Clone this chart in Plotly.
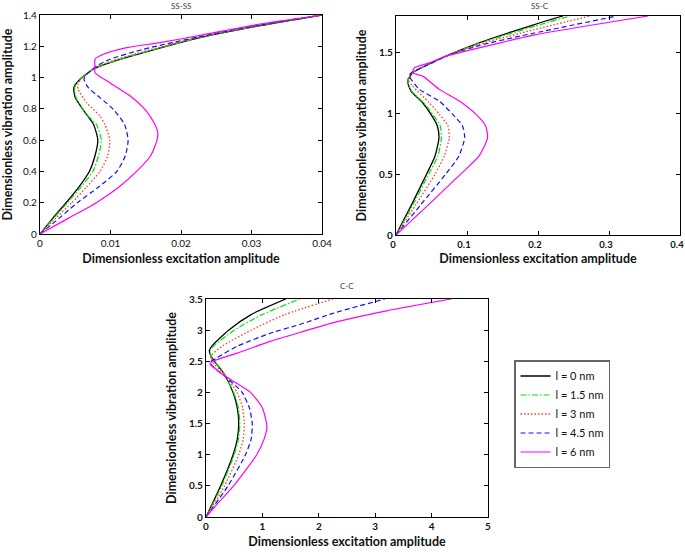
import plotly.graph_objects as go

# ---------------- data ----------------
series_names = ["l = 0 nm", "l = 1.5 nm", "l = 3 nm", "l = 4.5 nm", "l = 6 nm"]
series_colors = ["#000000", "#00e000", "#ff3b1f", "#1010ff", "#ff00ff"]
series_dash = ["solid", "6px,2px,1.5px,2px", "1.5px,2px", "5px,3px", "solid"]
series_width = [1.3, 1.2, 1.3, 1.2, 1.2]

panel_titles = ["SS-SS", "SS-C", "C-C"]
x_title = "Dimensionless excitation amplitude"
y_title = "Dimensionless vibration amplitude"

# SS-SS panel
ssss_x_ticks = [0, 0.01, 0.02, 0.03, 0.04]
ssss_x_labels = ["0", "0.01", "0.02", "0.03", "0.04"]
ssss_y_ticks = [0, 0.2, 0.4, 0.6, 0.8, 1.0, 1.2, 1.4]
ssss_y_labels = ["0", "0.2", "0.4", "0.6", "0.8", "1", "1.2", "1.4"]

ssss_l0_x = [0, 0.0018, 0.0037, 0.0055, 0.0070, 0.0078, 0.0082, 0.0076, 0.0064, 0.0050, 0.0048, 0.00567, 0.00756, 0.0099, 0.01466, 0.0227, 0.031, 0.040]
ssss_l0_y = [0, 0.1, 0.2, 0.3, 0.4, 0.5, 0.6, 0.7, 0.776, 0.872, 0.935, 0.989, 1.053, 1.095, 1.159, 1.255, 1.33, 1.4]
ssss_l15_x = [0, 0.0019, 0.0039, 0.0058, 0.0075, 0.0083, 0.0087, 0.0080, 0.0066, 0.0052, 0.0049, 0.0057, 0.0076, 0.0099, 0.0146, 0.0226, 0.0309, 0.040]
ssss_l15_y = [0, 0.1, 0.2, 0.3, 0.4, 0.5, 0.6, 0.7, 0.765, 0.861, 0.935, 0.989, 1.053, 1.095, 1.159, 1.255, 1.33, 1.4]
ssss_l3_x = [0, 0.0022, 0.0045, 0.0066, 0.0085, 0.0096, 0.0099, 0.0092, 0.0085, 0.0066, 0.0054, 0.0054, 0.0060, 0.0078, 0.0098, 0.0146, 0.0225, 0.0308, 0.040]
ssss_l3_y = [0, 0.1, 0.2, 0.3, 0.4, 0.5, 0.6, 0.7, 0.754, 0.84, 0.925, 0.96, 1.0, 1.06, 1.1, 1.165, 1.258, 1.332, 1.4]
ssss_l45_x = [0, 0.0027, 0.0053, 0.0083, 0.0109, 0.0121, 0.0125, 0.0120, 0.0104, 0.0085, 0.00686, 0.00624, 0.00662, 0.00804, 0.0099, 0.01466, 0.0227, 0.031, 0.040]
ssss_l45_y = [0, 0.1, 0.2, 0.3, 0.4, 0.5, 0.6, 0.7, 0.797, 0.872, 0.935, 0.989, 1.021, 1.074, 1.117, 1.181, 1.262, 1.335, 1.4]
ssss_l6_x = [0, 0.0040, 0.0080, 0.0112, 0.0137, 0.0157, 0.0166, 0.0167, 0.0163, 0.0156, 0.01466, 0.0128, 0.0099, 0.0078, 0.0078, 0.0078, 0.0090, 0.0123, 0.0170, 0.0227, 0.031, 0.040]
ssss_l6_y = [0, 0.1, 0.2, 0.3, 0.4, 0.5, 0.6, 0.65, 0.7, 0.754, 0.808, 0.882, 0.967, 1.031, 1.07, 1.117, 1.149, 1.191, 1.223, 1.27, 1.34, 1.4]

# SS-C panel
ssc_x_ticks = [0, 0.1, 0.2, 0.3, 0.4]
ssc_x_labels = ["0", "0.1", "0.2", "0.3", "0.4"]
ssc_y_ticks = [0, 0.5, 1.0, 1.5]
ssc_y_labels = ["0", "0.5", "1", "1.5"]

ssc_l0_x = [0, 0.022, 0.043, 0.055, 0.0605, 0.058, 0.0493, 0.0376, 0.0211, 0.0164, 0.0235, 0.0423, 0.0704, 0.117, 0.195, 0.235]
ssc_l0_y = [0, 0.25, 0.5, 0.65, 0.8, 0.9, 0.992, 1.087, 1.183, 1.265, 1.333, 1.393, 1.47, 1.579, 1.73, 1.8]
ssc_l15_x = [0, 0.024, 0.046, 0.059, 0.064, 0.062, 0.0516, 0.039, 0.022, 0.0165, 0.0235, 0.0423, 0.0704, 0.117, 0.195, 0.245]
ssc_l15_y = [0, 0.25, 0.5, 0.65, 0.8, 0.9, 0.992, 1.087, 1.183, 1.265, 1.333, 1.393, 1.47, 1.575, 1.715, 1.8]
ssc_l3_x = [0, 0.028, 0.055, 0.068, 0.075, 0.073, 0.061, 0.047, 0.0235, 0.017, 0.021, 0.042, 0.070, 0.117, 0.195, 0.273]
ssc_l3_y = [0, 0.25, 0.5, 0.65, 0.8, 0.9, 0.992, 1.087, 1.224, 1.28, 1.33, 1.393, 1.47, 1.568, 1.688, 1.8]
ssc_l45_x = [0, 0.035, 0.070, 0.0887, 0.0967, 0.0934, 0.0798, 0.061, 0.0329, 0.0188, 0.021, 0.043, 0.071, 0.117, 0.1746, 0.195, 0.311]
ssc_l45_y = [0, 0.25, 0.5, 0.65, 0.8, 0.9, 0.992, 1.101, 1.197, 1.306, 1.33, 1.393, 1.47, 1.557, 1.635, 1.66, 1.8]
ssc_l6_x = [0, 0.046, 0.091, 0.117, 0.129, 0.126, 0.1127, 0.0892, 0.061, 0.0376, 0.0235, 0.0258, 0.047, 0.0704, 0.117, 0.1746, 0.195, 0.270, 0.355]
ssc_l6_y = [0, 0.25, 0.5, 0.65, 0.8, 0.9, 0.992, 1.101, 1.197, 1.306, 1.333, 1.374, 1.415, 1.47, 1.538, 1.618, 1.645, 1.72, 1.8]

# C-C panel
cc_x_ticks = [0, 1, 2, 3, 4, 5]
cc_x_labels = ["0", "1", "2", "3", "4", "5"]
cc_y_ticks = [0, 0.5, 1.0, 1.5, 2.0, 2.5, 3.0, 3.5]
cc_y_labels = ["0", "0.5", "1", "1.5", "2", "2.5", "3", "3.5"]

cc_l0_x = [0, 0.26, 0.48, 0.555, 0.58, 0.555, 0.48, 0.32, 0.15, 0.08, 0.06, 0.11, 0.40, 0.80, 1.415]
cc_l0_y = [0, 0.5, 1.0, 1.25, 1.5, 1.75, 2.0, 2.3, 2.5, 2.6, 2.67, 2.75, 3.0, 3.25, 3.5]
cc_l15_x = [0, 0.28, 0.50, 0.575, 0.60, 0.575, 0.49, 0.32, 0.15, 0.085, 0.075, 0.14, 0.50, 1.00, 1.66]
cc_l15_y = [0, 0.5, 1.0, 1.25, 1.5, 1.75, 2.0, 2.3, 2.5, 2.6, 2.67, 2.75, 3.0, 3.25, 3.5]
cc_l3_x = [0, 0.33, 0.58, 0.66, 0.68, 0.65, 0.55, 0.32, 0.15, 0.08, 0.10, 0.30, 0.80, 1.40, 2.25]
cc_l3_y = [0, 0.5, 1.0, 1.25, 1.5, 1.75, 2.0, 2.3, 2.45, 2.55, 2.6, 2.75, 3.0, 3.25, 3.5]
cc_l45_x = [0, 0.39, 0.70, 0.80, 0.82, 0.77, 0.64, 0.35, 0.14, 0.08, 0.20, 0.55, 1.14, 1.73, 2.25, 3.17]
cc_l45_y = [0, 0.5, 1.0, 1.25, 1.5, 1.75, 2.0, 2.25, 2.4, 2.48, 2.56, 2.74, 2.95, 3.11, 3.27, 3.5]
cc_l6_x = [0, 0.24, 0.49, 0.90, 1.03, 1.08, 1.00, 0.79, 0.45, 0.28, 0.14, 0.07, 0.10, 0.55, 1.14, 1.73, 2.26, 3.20, 4.35]
cc_l6_y = [0, 0.25, 0.5, 1.0, 1.25, 1.45, 1.75, 2.0, 2.2, 2.3, 2.4, 2.45, 2.49, 2.63, 2.82, 2.98, 3.12, 3.31, 3.5]

# ---------------- figure ----------------
panels = [
    ("x", "y", [(ssss_l0_x, ssss_l0_y), (ssss_l15_x, ssss_l15_y), (ssss_l3_x, ssss_l3_y), (ssss_l45_x, ssss_l45_y), (ssss_l6_x, ssss_l6_y)]),
    ("x2", "y2", [(ssc_l0_x, ssc_l0_y), (ssc_l15_x, ssc_l15_y), (ssc_l3_x, ssc_l3_y), (ssc_l45_x, ssc_l45_y), (ssc_l6_x, ssc_l6_y)]),
    ("x3", "y3", [(cc_l0_x, cc_l0_y), (cc_l15_x, cc_l15_y), (cc_l3_x, cc_l3_y), (cc_l45_x, cc_l45_y), (cc_l6_x, cc_l6_y)]),
]

fig = go.Figure()
for p, (xa, ya, curves) in enumerate(panels):
    for i, (cx, cy) in enumerate(curves):
        fig.add_trace(go.Scatter(
            x=cx, y=cy, mode="lines", xaxis=xa, yaxis=ya,
            name=series_names[i], legendgroup=series_names[i], showlegend=(p == 0),
            line=dict(color=series_colors[i], dash=series_dash[i], width=series_width[i],
                      shape="spline", smoothing=0.6),
        ))

W, H = 685, 552
FONT = "Lato"

def px_x(a, b):
    return [a / W, b / W]

def px_y(top, bottom):
    return [1 - bottom / H, 1 - top / H]

def axis(domain, rng, tv, tt, anchor, title, bold, standoff, shift=0, size=10):
    return dict(
        domain=domain, range=rng, tickvals=tv, ticktext=tt, anchor=anchor,
        showline=True, linecolor="black", linewidth=1.2, mirror="ticks",
        ticks="inside", ticklen=4, tickwidth=1, tickcolor="black",
        showgrid=False, zeroline=False, fixedrange=True, automargin=False,
        ticklabeloverflow="allow", ticklabelshift=shift,
        tickfont=dict(family=FONT, size=size, color="#111", weight="bold" if bold else "normal"),
        title=dict(text=title, standoff=standoff,
                   font=dict(family=FONT, size=12.5, color="#111", weight="bold")),
    )

fig.update_layout(
    width=W, height=H, margin=dict(l=0, r=0, t=0, b=0, autoexpand=False),
    paper_bgcolor="white", plot_bgcolor="white",
    xaxis=axis(px_x(40, 322), [0, 0.04], ssss_x_ticks, ssss_x_labels, "y", x_title, False, 6),
    yaxis=axis(px_y(15, 234), [0, 1.4], ssss_y_ticks, ssss_y_labels, "x", y_title, False, 10),
    xaxis2=axis(px_x(396, 680), [0, 0.4], ssc_x_ticks, ssc_x_labels, "y2", x_title, True, 5, shift=-3, size=9.5),
    yaxis2=axis(px_y(16, 235), [0, 1.8], ssc_y_ticks, ssc_y_labels, "x2", y_title, True, 9),
    xaxis3=axis(px_x(206, 488), [0, 5], cc_x_ticks, cc_x_labels, "y3", x_title, True, 6),
    yaxis3=axis(px_y(299, 517), [0, 3.5], cc_y_ticks, cc_y_labels, "x3", y_title, True, 9),
    legend=dict(x=514 / W, y=1 - 360 / H, xanchor="left", yanchor="top",
                bordercolor="#666", borderwidth=1.5, bgcolor="white",
                font=dict(family=FONT, size=11, color="#111"), tracegroupgap=0),
    showlegend=True,
)

title_pos = [(181, 6), (540, 6), (347, 286)]
for t, (tx, ty) in zip(panel_titles, title_pos):
    fig.add_annotation(text=t, x=tx / W, y=1 - ty / H, xref="paper", yref="paper",
                       showarrow=False, xanchor="center", yanchor="middle",
                       font=dict(family=FONT, size=8, color="#444"))

# remove the browser's default 8px page margin so the figure sits at the page origin
fig.write_html("out.html", config={"displayModeBar": False},
               post_script="document.body.style.margin='0px';")
